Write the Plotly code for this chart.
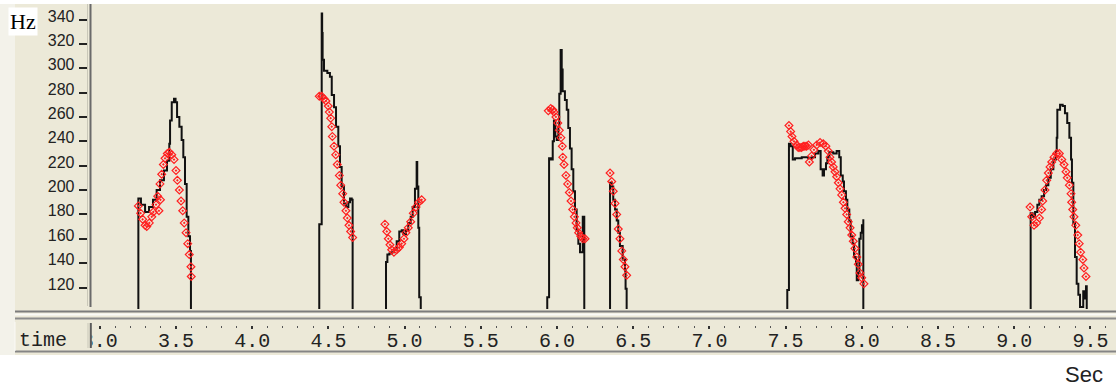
import plotly.graph_objects as go

W, H = 1116, 389

# ---------------- data ----------------
# Measured pitch contour (Hz); 0 = unvoiced, None separates voiced segments
pitch_time = [
    3.253, 3.253, 3.270, 3.297, 3.323, 3.349, 3.373, 3.395, 3.421, 3.441, 3.456, 3.461, 3.472,
    3.487, 3.497, 3.507, 3.522, 3.537, 3.548, 3.559, 3.570, 3.581, 3.592, 3.598, 3.598, None,
    4.440, 4.440, 4.456, 4.456, 4.459, 4.462, 4.471, 4.493, 4.510, 4.522, 4.537, 4.550, 4.565,
    4.576, 4.587, 4.602, 4.615, 4.631, 4.642, 4.653, 4.659, 4.659, None,
    4.878, 4.878, 4.887, 4.900, 4.915, 4.930, 4.948, 4.965, 4.981, 4.992, 5.009, 5.024, 5.040,
    5.053, 5.068, 5.079, 5.083, 5.090, 5.096, 5.106, 5.106, None,
    5.936, 5.936, 5.948, 5.959, 5.972, 5.980, 5.989, 5.998, 6.009, 6.015, 6.024, 6.031, 6.037,
    6.052, 6.064, 6.074, 6.085, 6.096, 6.107, 6.118, 6.129, 6.140, 6.151, 6.162, 6.169, 6.179, None,
    6.348, 6.348, 6.359, 6.369, 6.381, 6.392, 6.402, 6.413, 6.431, 6.446, 6.450, 6.457, None,
    7.511, 7.511, 7.522, 7.533, 7.547, 7.562, 7.583, 7.606, 7.627, 7.649, 7.671, 7.693, 7.715,
    7.730, 7.743, 7.752, 7.765, 7.774, 7.787, 7.813, 7.835, 7.852, 7.862, 7.875, 7.883, 7.896,
    7.905, 7.918, 7.927, 7.940, 7.949, 7.962, 7.967, 7.977, 7.984, 7.993, 8.001, 8.010, 8.010, None,
    9.108, 9.108, 9.121, 9.137, 9.152, 9.165, 9.180, 9.196, 9.209, 9.224, 9.240, 9.257, 9.274,
    9.279, 9.283, 9.301, 9.318, 9.333, 9.348, 9.362, 9.373, 9.379, 9.388, 9.399, 9.410, 9.421,
    9.432, 9.443, 9.453, 9.465, 9.471, 9.476,
]
pitch_hz = [
    0, 193, 188, 182, 186, 192, 200, 208, 216, 224, 238, 257, 272,
    275, 272, 260, 252, 241, 227, 205, 178, 162, 150, 143, 0, None,
    0, 172, 172, 345, 329, 307, 298, 296, 293, 278, 268, 252, 236,
    219, 203, 189, 186, 190, 193, 192, 165, 0, None,
    0, 141, 147, 148, 149, 151, 158, 166, 167, 164, 167, 173, 178,
    186, 201, 223, 203, 169, 112, 112, 0, None,
    0, 112, 226, 225, 240, 257, 244, 241, 252, 279, 315, 299, 281,
    274, 266, 251, 234, 217, 199, 184, 167, 156, 149, 149, 178, 0, None,
    0, 206, 203, 192, 184, 175, 165, 154, 143, 134, 119, 0, None,
    0, 118, 238, 236, 225, 226, 226, 227, 227, 226, 227, 230, 232,
    217, 212, 217, 222, 227, 231, 230, 232, 227, 212, 207, 199, 192,
    184, 175, 162, 156, 145, 140, 126, 132, 160, 165, 171, 176, 0, None,
    0, 181, 178, 182, 188, 192, 195, 200, 204, 210, 217, 225, 232,
    243, 266, 270, 269, 263, 255, 243, 225, 206, 173, 145, 123, 114,
    104, 104, 117, 111, 121, 0,
]

# Stylised (modelled) contour points
styl_time = [
    3.253, 3.268, 3.281, 3.297, 3.308, 3.325, 3.341, 3.351, 3.369, 3.380, 3.388, 3.395, 3.398,
    3.406, 3.417, 3.428, 3.443, 3.456, 3.472, 3.487, 3.500, 3.509, 3.522, 3.533, 3.544, 3.554,
    3.566, 3.577, 3.587, 3.598, 3.600,
    4.440, 4.456, 4.471, 4.484, 4.499, 4.506, 4.515, 4.522, 4.526, 4.537, 4.548, 4.558, 4.572,
    4.581, 4.594, 4.602, 4.615, 4.624, 4.635, 4.646, 4.659,
    4.871, 4.883, 4.893, 4.904, 4.915, 4.930, 4.948, 4.965, 4.981, 4.996, 5.009, 5.024, 5.040,
    5.057, 5.075, 5.093, 5.112,
    5.943, 5.959, 5.972, 5.980, 5.993, 6.005, 6.015, 6.026, 6.035, 6.038, 6.046, 6.059, 6.070,
    6.081, 6.092, 6.103, 6.114, 6.125, 6.133, 6.142, 6.156, 6.169, 6.184,
    6.348, 6.359, 6.369, 6.381, 6.392, 6.402, 6.413, 6.425, 6.435, 6.446, 6.457,
    7.522, 7.533, 7.542, 7.555, 7.573, 7.583, 7.594, 7.605, 7.616, 7.627, 7.638, 7.650, 7.656,
    7.671, 7.686, 7.704, 7.726, 7.747, 7.765, 7.780, 7.791, 7.802, 7.813, 7.824, 7.835, 7.846,
    7.857, 7.868, 7.879, 7.890, 7.901, 7.911, 7.923, 7.934, 7.944, 7.955, 7.967, 7.977, 7.988,
    7.999, 8.014,
    9.104, 9.115, 9.130, 9.148, 9.165, 9.180, 9.187, 9.202, 9.213, 9.224, 9.235, 9.246, 9.261,
    9.279, 9.296, 9.312, 9.327, 9.340, 9.348, 9.362, 9.373, 9.377, 9.384, 9.392, 9.404, 9.417,
    9.427, 9.436, 9.450, 9.458, 9.471,
]
styl_hz = [
    187, 181, 176, 171, 170, 173, 178, 182, 188, 195, 183, 205, 192,
    213, 221, 226, 230, 231, 229, 225, 216, 208, 200, 191, 183, 173,
    165, 156, 147, 137, 129,
    277, 277, 275, 273, 269, 264, 259, 252, 244, 236, 229, 221, 212,
    204, 197, 190, 183, 177, 171, 166, 161,
    172, 166, 160, 155, 151, 149, 151, 153, 156, 160, 165, 169, 174,
    181, 186, 190, 192,
    265, 267, 266, 264, 260, 255, 249, 243, 236, 227, 221, 212, 205,
    198, 191, 184, 178, 173, 169, 165, 162, 160, 160,
    214, 207, 199, 189, 180, 168, 160, 150, 143, 137, 130,
    253, 248, 244, 240, 237, 235, 235, 235, 236, 236, 236, 237, 223,
    228, 233, 237, 239, 238, 236, 232, 227, 223, 219, 215, 211, 206,
    201, 196, 190, 185, 180, 174, 169, 163, 158, 152, 145, 139, 132,
    128, 123,
    186, 178, 171, 173, 177, 184, 191, 200, 208, 214, 219, 223, 227,
    230, 230, 225, 221, 215, 210, 204, 197, 190, 184, 178, 171, 163,
    156, 149, 143, 136, 129,
]

hz_ticks = [120, 140, 160, 180, 200, 220, 240, 260, 280, 300, 320, 340]
time_ticks = [3.0, 3.5, 4.0, 4.5, 5.0, 5.5, 6.0, 6.5, 7.0, 7.5, 8.0, 8.5, 9.0, 9.5]
time_labels = ["%.1f" % t for t in time_ticks]

time_range = [2.9488, 9.668]
hz_range = [102.35, 352.72]
label_shift = 2.9  # labels sit slightly above their tick dashes

# ---------------- styling ----------------
BEIGE = "#ECE9D8"


def fx(px):
    return px / W


def fy(py):
    return 1 - py / H


fig = go.Figure()
fig.add_trace(go.Scatter(
    x=pitch_time, y=pitch_hz, mode="lines", line_shape="hv",
    line=dict(color="#111111", width=2), connectgaps=False,
    showlegend=False, hoverinfo="skip",
))
fig.add_trace(go.Scatter(
    x=styl_time, y=styl_hz, mode="markers",
    marker=dict(symbol="diamond-open-dot", size=6, color="#FF2020",
                line=dict(color="#FF2020", width=1.2)),
    showlegend=False, hoverinfo="skip",
))
# empty trace so the label axis is drawn
fig.add_trace(go.Scatter(x=[None], y=[None], yaxis="y2", showlegend=False, hoverinfo="skip"))

shapes = [
    # beige panel
    dict(type="rect", xref="paper", yref="paper", x0=0, x1=1, y0=fy(355), y1=fy(4),
         fillcolor=BEIGE, line=dict(width=0), layer="below"),
    dict(type="rect", xref="paper", yref="paper", x0=0, x1=fx(15), y0=fy(355), y1=fy(4),
         fillcolor="#F3F2EA", line=dict(width=0), layer="below"),
    # vertical border of the y axis
    dict(type="line", xref="paper", yref="paper", x0=fx(87.5), x1=fx(87.5), y0=fy(306), y1=fy(4),
         line=dict(color="#C9C7B8", width=1)),
    dict(type="line", xref="paper", yref="paper", x0=fx(90.5), x1=fx(90.5), y0=fy(307), y1=fy(4),
         line=dict(color="#6A6A6A", width=2)),
    # double separator between chart and time bar
    dict(type="line", xref="paper", yref="paper", x0=fx(15), x1=1, y0=fy(311.5), y1=fy(311.5),
         line=dict(color="#7C7C7C", width=2)),
    dict(type="line", xref="paper", yref="paper", x0=fx(15), x1=1, y0=fy(314.5), y1=fy(314.5),
         line=dict(color="#FAFAF6", width=2)),
    dict(type="line", xref="paper", yref="paper", x0=fx(15), x1=1, y0=fy(318.5), y1=fy(318.5),
         line=dict(color="#8C8C8C", width=2)),
    # cover left of time axis (clips the first label)
    dict(type="rect", xref="paper", yref="paper", x0=fx(15), x1=fx(91.5), y0=fy(350), y1=fy(321),
         fillcolor=BEIGE, line=dict(width=0), layer="above"),
    # time bar separator
    dict(type="line", xref="paper", yref="paper", x0=fx(88), x1=fx(88), y0=fy(348), y1=fy(323),
         line=dict(color="#C9C7B8", width=1), layer="above"),
    dict(type="line", xref="paper", yref="paper", x0=fx(90.8), x1=fx(90.8), y0=fy(348), y1=fy(323),
         line=dict(color="#5A5A5A", width=2), layer="above"),
    # bottom border of time bar
    dict(type="line", xref="paper", yref="paper", x0=fx(15), x1=1, y0=fy(351.5), y1=fy(351.5),
         line=dict(color="#858585", width=2), layer="above"),
    dict(type="line", xref="paper", yref="paper", x0=fx(15), x1=fx(15), y0=fy(351), y1=fy(322),
         line=dict(color="#FAFAF6", width=1), layer="above"),
]

annotations = [
    dict(text="Hz", xref="paper", yref="paper", x=fx(23), y=fy(21.5), xanchor="center", yanchor="middle",
         showarrow=False, font=dict(family="Liberation Serif, Times New Roman, serif", size=22, color="#000"),
         bgcolor="#FFFFFF", borderpad=1),
    dict(text="time", xref="paper", yref="paper", x=fx(17), y=fy(340), xanchor="left", yanchor="middle",
         showarrow=False, font=dict(family="Liberation Mono, Courier New, monospace", size=20, color="#222")),
    dict(text="Sec", xref="paper", yref="paper", x=fx(1105), y=fy(374), xanchor="right", yanchor="middle",
         showarrow=False, font=dict(family="Liberation Sans Narrow, Liberation Sans, Arial, sans-serif",
                                    size=22, color="#222")),
]

fig.update_layout(
    width=W, height=H, margin=dict(l=0, r=0, t=0, b=0, pad=0, autoexpand=False),
    paper_bgcolor="#FFFFFF", plot_bgcolor=BEIGE, showlegend=False,
    xaxis=dict(
        domain=[fx(92), 1], range=time_range, anchor="free", position=fy(325), side="bottom",
        automargin=False,
        showgrid=False, zeroline=False, showline=False,
        tickmode="array", tickvals=time_ticks, ticktext=time_labels,
        ticks="outside", ticklen=3, tickwidth=2, tickcolor="#333",
        tickfont=dict(family="Liberation Mono, Courier New, monospace", size=20, color="#222"),
        ticklabelstandoff=-6,
        minor=dict(tickmode="linear", tick0=0, dtick=0.1, ticks="outside", ticklen=2,
                   tickwidth=1.3, tickcolor="#555"),
    ),
    yaxis=dict(
        domain=[fy(309), fy(4)], range=hz_range, anchor="free", position=fx(86.5), side="left",
        automargin=False,
        showgrid=False, zeroline=False, showline=False,
        tickmode="array", tickvals=hz_ticks, showticklabels=False,
        ticks="outside", ticklen=8, tickwidth=2, tickcolor="#222",
    ),
    yaxis2=dict(
        overlaying="y", range=[hz_range[0] - label_shift, hz_range[1] - label_shift],
        anchor="free", position=fx(86.5), side="left", automargin=False,
        showgrid=False, zeroline=False, showline=False,
        tickmode="array", tickvals=hz_ticks, ticks="",
        tickfont=dict(family="Liberation Sans, Arial, sans-serif", size=16, color="#222"),
        ticklabelstandoff=12,
    ),
    shapes=shapes, annotations=annotations,
)

fig.write_html("out.html")
